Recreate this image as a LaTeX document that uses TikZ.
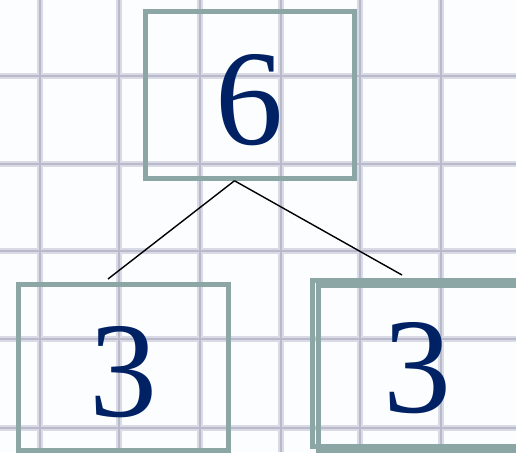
\documentclass[tikz,border=0pt]{standalone}
\usepackage{fontspec}
\setmainfont{Liberation Serif}
\definecolor{gridsoft}{RGB}{216,218,230}
\definecolor{gridline}{RGB}{184,186,204}
\definecolor{boxline}{RGB}{140,166,166}
\definecolor{digit}{RGB}{0,34,100}
\definecolor{paper}{RGB}{252,253,254}

\begin{document}
\begin{tikzpicture}[x=1pt, y=-1pt,
    gridhalo/.style={gridsoft, line width=6.5pt},
    grid/.style={gridline, line width=2.5pt},
    numbox/.style={rectangle, draw=boxline, line width=5pt, inner sep=0pt,
        minimum width=210pt, minimum height=166pt, text=digit,
        font=\fontsize{136}{136}\selectfont, text height=99pt, text depth=0pt},
    link/.style={black, line width=1.4pt}
]
\useasboundingbox (0,0) rectangle (516,452);
\clip (0,0) rectangle (516,452);
\fill[paper] (0,0) rectangle (516,452);

% squared paper
\foreach \gx in {40,119,200,281,360,441}
    \draw[gridhalo] (\gx,0) -- (\gx,452);
\foreach \gy in {76,164,251,339,428}
    \draw[gridhalo] (0,\gy) -- (516,\gy);
\foreach \gx in {40,119,200,281,360,441}
    \draw[grid] (\gx,0) -- (\gx,452);
\foreach \gy in {76,164,251,339,428}
    \draw[grid] (0,\gy) -- (516,\gy);

\node[numbox, minimum width=209pt, minimum height=167pt] (six) at (249.5,94.75) {6};
\node[numbox] (left3) at (123,367) {3};
\node[numbox] (right3in) at (423,368) {};
\node[numbox] (right3) at (417,363) {3};

\draw[link] ([xshift=-15pt]six.south) -- ([xshift=-15pt, yshift=2.5pt]left3.north);
\draw[link] ([xshift=-15pt]six.south) -- ([xshift=-15pt, yshift=2.5pt]right3.north);
\end{tikzpicture}
\end{document}
